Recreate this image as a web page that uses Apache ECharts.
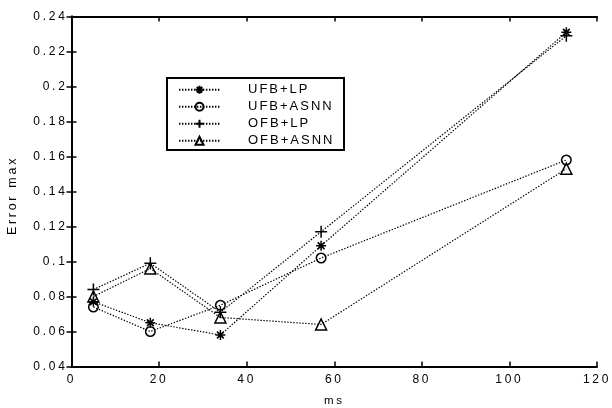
<!DOCTYPE html>
<html>
<head>
<meta charset="UTF-8" />
<title>Error max vs ms</title>
<script src="https://cdn.jsdelivr.net/npm/echarts@6/dist/echarts.min.js"></script>
<style>
    body { margin: 0; background: #fff; }
    #chart { width: 612px; height: 408px; }
</style>
</head>
<body>
<div id="chart"></div>
<script>
    // x positions (ms) shared by every series
    const msValues = [5, 18, 34, 57, 113];

    // Error max
    const ufbLp   = [0.077, 0.065, 0.058, 0.109, 0.231];
    const ufbAsnn = [0.074, 0.060, 0.075, 0.102, 0.158];
    const ofbLp   = [0.084, 0.099, 0.071, 0.117, 0.229];
    const ofbAsnn = [0.080, 0.096, 0.068, 0.064, 0.153];

    const seriesNames = ['UFB+LP', 'UFB+ASNN', 'OFB+LP', 'OFB+ASNN'];

    const font = 'Liberation Sans, Arial, sans-serif';
    const ink = '#000';

    // marker shapes, drawn as strokes
    const asterisk = 'path://M5,0L5,10M0,5L10,5M1.6,1.6L8.4,8.4M8.4,1.6L1.6,8.4';
    const plus = 'path://M5,0L5,10M0,5L10,5';

    function makeSeries(name, values, symbol, size) {
        return {
            name: name,
            type: 'line',
            data: msValues.map((x, i) => [x, values[i]]),
            symbol: symbol,
            symbolSize: size,
            showAllSymbol: true,
            animation: false,
            lineStyle: { color: ink, width: 1.2, type: [1.4, 1.6] },
            itemStyle: { color: 'transparent', borderColor: ink, borderWidth: 1.5 },
            emphasis: { disabled: true }
        };
    }

    const chart = echarts.init(document.getElementById('chart'), null, { renderer: 'canvas' });

    // the original figure uses widely spaced lettering; set it on the canvas layers
    const painter = chart.getZr().painter;
    function spaceLayer(zlevel, px) {
        const layer = painter.getLayer && painter.getLayer(zlevel);
        if (layer && layer.ctx && 'letterSpacing' in layer.ctx) layer.ctx.letterSpacing = px;
    }
    spaceLayer(0, '2.7px');   // axes
    spaceLayer(1, '2px');     // legend

    const axisLine = { show: true, lineStyle: { color: '#000', width: 2 } };
    const axisTick = { show: true, inside: true, length: 5, lineStyle: { color: '#000', width: 1.5 } };

    chart.setOption({
        backgroundColor: '#fff',
        animation: false,
        grid: { left: 71.5, right: 15, top: 16.5, bottom: 41.5, containLabel: false, outerBoundsMode: 'none' },
        graphic: [{
            type: 'rect',
            zlevel: 1,
            z: 1,
            left: 166,
            top: 77,
            shape: { x: 0, y: 0, width: 177, height: 72 },
            style: { fill: '#fff', stroke: '#000', lineWidth: 2 },
            silent: true
        }],
        legend: {
            zlevel: 1,
            z: 5,
            orient: 'vertical',
            left: 178,
            top: 83.3,
            padding: 0,
            itemWidth: 41,
            itemHeight: 10,
            itemGap: 4,
            data: seriesNames,
            textStyle: { fontFamily: font, fontSize: 13, color: ink, padding: [0, 0, 0, 23] }
        },
        xAxis: [{
            type: 'value',
            min: 0, max: 120, interval: 20,
            name: 'ms',
            nameLocation: 'middle',
            nameGap: 28,
            nameTextStyle: { fontFamily: font, fontSize: 11.5, color: ink },
            axisLine: axisLine,
            axisTick: axisTick,
            splitLine: { show: false },
            axisLabel: { fontFamily: font, fontSize: 12, color: ink, margin: 7 }
        }, {
            type: 'value',
            position: 'top',
            min: 0, max: 120, interval: 20,
            axisLine: axisLine,
            axisTick: axisTick,
            splitLine: { show: false },
            axisLabel: { show: false }
        }],
        yAxis: [{
            type: 'value',
            min: 0.04, max: 0.24, interval: 0.02,
            name: 'Error max',
            nameLocation: 'middle',
            nameGap: 52,
            nameTextStyle: { fontFamily: font, fontSize: 12.5, color: ink, padding: [0, 8, 0, 0] },
            axisLine: axisLine,
            axisTick: axisTick,
            splitLine: { show: false },
            axisLabel: { fontFamily: font, fontSize: 12, color: ink, margin: 4 }
        }, {
            type: 'value',
            position: 'right',
            min: 0.04, max: 0.24, interval: 0.02,
            axisLine: axisLine,
            axisTick: axisTick,
            splitLine: { show: false },
            axisLabel: { show: false }
        }],
        series: [
            makeSeries(seriesNames[0], ufbLp, asterisk, 10),
            makeSeries(seriesNames[1], ufbAsnn, 'circle', 9.5),
            makeSeries(seriesNames[2], ofbLp, plus, 12),
            makeSeries(seriesNames[3], ofbAsnn, 'triangle', 11)
        ]
    });
</script>
</body>
</html>
